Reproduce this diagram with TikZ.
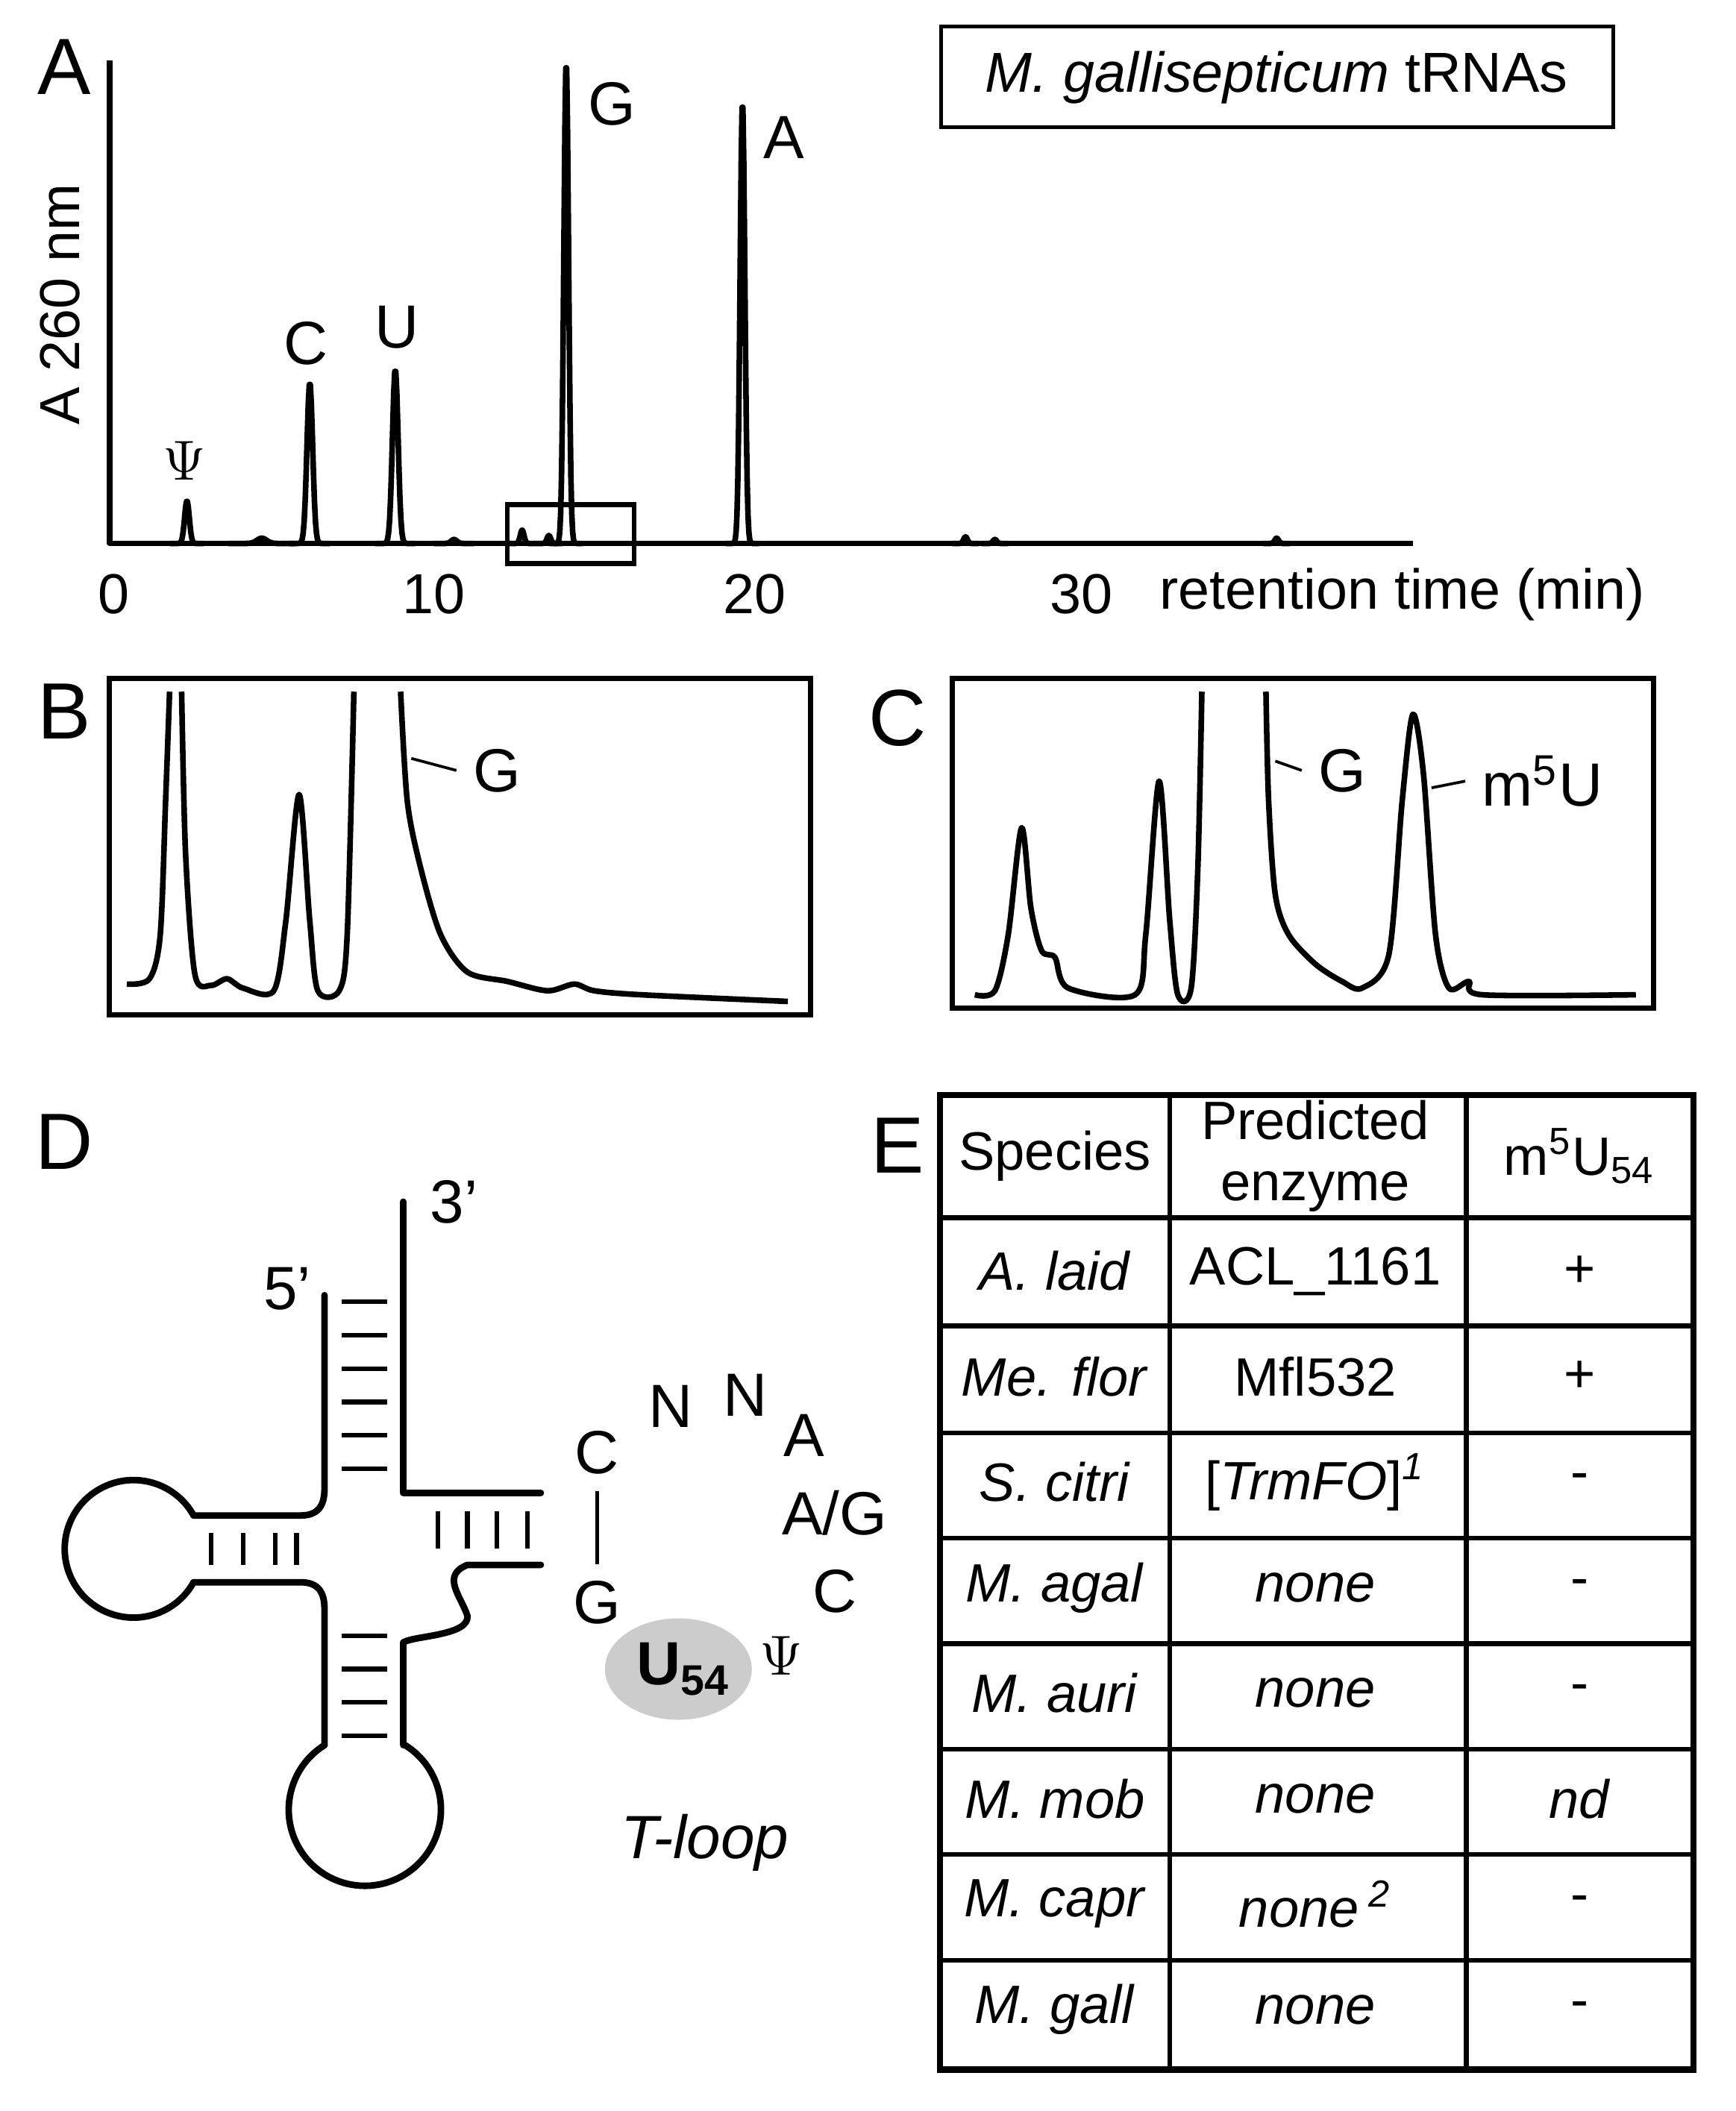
\documentclass[tikz,border=0pt]{standalone}
\usepackage{fontspec}
\setmainfont{Liberation Sans}
\begin{document}
\begin{tikzpicture}[x={(0.01cm,0)},y={(0,-0.01cm)},
 ln/.style={line width=1.4pt,line join=round,line cap=round},
 tr/.style={line width=1.2pt,line join=round},
 pl/.style={font=\fontsize{17}{17}\selectfont},
 lb/.style={font=\fontsize{13}{13}\selectfont},
 tk/.style={font=\fontsize{12}{12}\selectfont},
 tb/.style={font=\fontsize{11.5}{13}\selectfont,align=center}]
\useasboundingbox (0,0) rectangle (1300,1581);
% Panel labels
\node[pl] (pA) at (48,50) {A};
\node[pl] (pB) at (48,533) {B};
\node[pl] (pC) at (672,538) {C};
\node[pl] (pD) at (48,855) {D};
\node[pl] (pE) at (672,858) {E};
% Panel A
\draw[tr] (82,45) -- (82,407) -- (1058,407);
\node[tk,rotate=90] (yl) at (45,228) {A 260 nm};
\foreach \c/\h/\w in {140/32/2.5, 196/4/5, 232/121/3, 296/131/3, 340/3/3, 391/10/2, 411/6/2, 424/362/2.5, 556/332/2.5, 723/5/2, 745/3/2, 956/4/2}
  \draw[tr] plot[domain=\c-5*\w:\c+5*\w,samples=40] (\x,{407-\h*exp(-((\x-\c)/\w)^2)});
\draw[line width=1pt] (380,378) rectangle (475,422);
\node[lb] (lpsi) at (138,345) {$\Psi$};
\node[lb] (lC) at (229,257) {C};
\node[lb] (lU) at (297,245) {U};
\node[lb] (lG) at (458,78) {G};
\node[lb] (lA) at (587,103) {A};
\node[tk] (t0) at (85,445) {0};
\node[tk] (t10) at (325,445) {10};
\node[tk] (t20) at (565,445) {20};
\node[tk] (t30) at (810,445) {30};
\node[tk] (rt) at (1050,445) {retention time (min)};
\draw[line width=0.8pt] (705,20) rectangle (1208,95);
\node[tk] (leg) at (956,58) {\textit{M. gallisepticum} tRNAs};
% Panel B
\draw[line width=1.1pt] (82,508) rectangle (607,760);
\draw[tr] plot[smooth,tension=0.5] coordinates {(95,737)(112,733)(120,700)(124,600)(127,518)};
\draw[tr] plot[smooth,tension=0.5] coordinates {(136,518)(139,640)(146,730)(158,738)(170,733)(182,740)(205,742)(214,690)(224,595)(232,690)(238,742)(254,742)(260,700)(265,518)};
\draw[tr] plot[smooth,tension=0.5] coordinates {(300,518)(305,600)(315,650)(330,700)(350,728)(380,735)(410,742)(430,737)(445,742)(480,745)(590,750)};
\node[lb] (bG) at (372,577) {G};
\draw[line width=0.6pt] (308,568) -- (bG.west);
% Panel C
\draw[line width=1.1pt] (713,508) rectangle (1238,755);
\draw[tr] plot[smooth,tension=0.5] coordinates {(730,745)(745,742)(755,700)(765,620)(772,680)(780,712)(790,717)(800,740)(850,745)(858,700)(868,585)(876,690)(882,745)(892,740)(897,650)(900,518)};
\draw[tr] plot[smooth,tension=0.5] coordinates {(948,518)(950,600)(955,670)(965,700)(985,722)(1005,735)(1020,740)(1040,715)(1050,600)(1058,535)(1066,580)(1075,700)(1085,740)(1100,735)(1110,745)(1225,745)};
\node[lb] (cG) at (1005,577) {G};
\draw[line width=0.6pt] (955,570) -- (cG.west);
\node[lb] (cm) at (1155,585) {m\textsuperscript{5}U};
\draw[line width=0.6pt] (1072,590) -- (cm.west);
% Panel D: tRNA
\draw[ln] (243,970) -- (243,1115) .. controls (243,1128) and (238,1135) .. (225,1135) -- (145,1135);
\draw[ln] (145,1135) arc[start angle=-29,end angle=-331,radius=51.5];
\draw[ln] (145,1185) -- (225,1185) .. controls (238,1185) and (243,1192) .. (243,1205) -- (243,1307);
\draw[ln] (302,900) -- (302,1118) -- (405,1118);
\draw[ln] (405,1172) -- (350,1172) .. controls (330,1180) and (345,1195) .. (350,1210) .. controls (352,1225) and (310,1225) .. (302,1230) -- (302,1307);
\draw[ln] (243,1307) arc[start angle=238,end angle=-58,radius=57];
\foreach \y in {975,1000,1025,1050,1075,1100,1225,1250,1275,1300} \draw[line width=1pt] (256,\y) -- (290,\y);
\foreach \x in {158,182,206,222} \draw[line width=1pt] (\x,1148) -- (\x,1172);
\foreach \x in {328,350,372,395} \draw[line width=1pt] (\x,1132) -- (\x,1160);
\node[lb] (p5) at (215,965) {5'};
\node[lb] (p3) at (340,900) {3'};
\fill[gray!40] (508,1250) ellipse[x radius=55,y radius=38];
\node[lb] (tC1) at (447,1088) {C};
\node[lb] (tN1) at (502,1053) {N};
\node[lb] (tN2) at (558,1045) {N};
\node[lb] (tA) at (602,1075) {A};
\node[lb] (tAG) at (625,1133) {A/G};
\node[lb] (tC2) at (625,1192) {C};
\node[lb] (tPsi) at (585,1240) {$\Psi$};
\node[lb] (tU) at (512,1250) {\textbf{U}\textsubscript{\textbf{54}}};
\node[lb] (tG) at (447,1200) {G};
\draw[line width=0.8pt] (tC1.south) -- (tG.north);
\node[lb] (tl) at (528,1380) {\textit{T-loop}};
% Panel E: table
\draw[line width=1.3pt] (704,820) rectangle (1268,1550);
\foreach \x in {876,1098} \draw[line width=1pt] (\x,820) -- (\x,1550);
\foreach \y in {912,993,1073,1152,1231,1310,1389,1468} \draw[line width=1pt] (704,\y) -- (1268,\y);
\node[tb] (h1) at (790,866) {Species};
\node[tb] (h2) at (985,866) {Predicted\\enzyme};
\node[tb] (h3) at (1183,866) {m\textsuperscript{5}U\textsubscript{54}};
\foreach \i/\s/\e/\m in {0/A. laid/ACL\_1161/+, 1/Me. flor/Mfl532/+, 2/S. citri/[\textit{TrmFO}]\textsuperscript{\textit{1}}/-, 3/M. agal/\textit{none}/-, 4/M. auri/\textit{none}/-, 5/M. mob/\textit{none}/\textit{nd}, 6/M. capr/\textit{none}\,\textsuperscript{\textit{2}}/-, 7/M. gall/\textit{none}/-}{
 \node[tb] (s\i) at (790,{952+79*\i}) {\textit{\s}};
 \node[tb] (e\i) at (985,{952+79*\i}) {\e};
 \node[tb] (m\i) at (1183,{952+79*\i}) {\m};
}
\end{tikzpicture}
\end{document}
